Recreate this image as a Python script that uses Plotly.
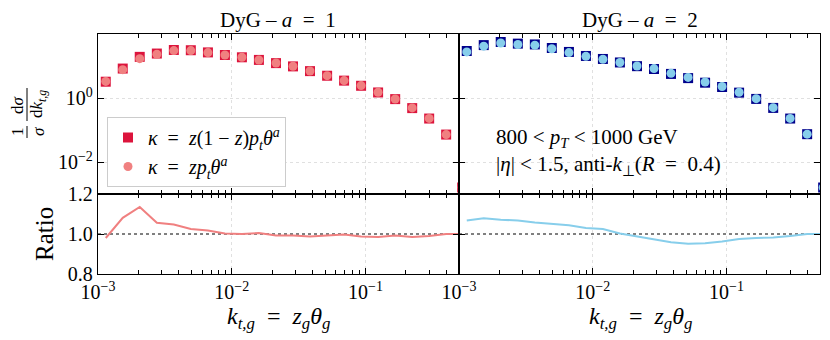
import plotly.graph_objects as go

# k_t,g bin centres (the last one sits just past the axis edge and is clipped)
kt = [0.001143, 0.001531, 0.002051, 0.002754, 0.00369, 0.004943, 0.006637,
      0.00889, 0.01191, 0.01596, 0.02143, 0.02871, 0.03846, 0.05164, 0.06918,
      0.09268, 0.1242, 0.1667, 0.2234, 0.2992, 0.4009, 0.528]

# DyG a = 1
a1_square = [3.23, 8.32, 19.3, 24.5, 31.7, 31.1, 26.6, 22.1, 18.7, 15.5, 12.3,
             9.72, 6.92, 4.96, 3.49, 2.41, 1.49, 0.923, 0.483, 0.228, 0.072, 0.0016]
a1_circle = [3.3, 7.7, 17.0, 23.2, 30.3, 30.3, 26.2, 22.0, 18.7, 15.4, 12.4,
             9.8, 7.0, 5.0, 3.5, 2.44, 1.51, 0.93, 0.49, 0.23, 0.072, 0.0016]
a1_ratio = [0.98, 1.081, 1.135, 1.056, 1.047, 1.025, 1.017, 1.003, 1.0, 1.005, 0.992,
            0.992, 0.988, 0.992, 0.998, 0.988, 0.985, 0.992, 0.985, 0.99, 1.0, 1.0]

# DyG a = 2
a2_square = [29.4, 45.0, 56.2, 50.0, 47.2, 36.5, 27.5, 20.6, 16.6, 12.9, 9.88,
             8.06, 5.66, 4.18, 3.01, 2.21, 1.47, 0.936, 0.49, 0.228, 0.074, 0.0016]
a2_circle = [27.5, 41.7, 52.5, 46.8, 44.7, 34.7, 26.3, 20.0, 16.2, 12.9, 10.0,
             8.3, 5.9, 4.4, 3.16, 2.29, 1.51, 0.955, 0.50, 0.23, 0.074, 0.0016]
a2_ratio = [1.068, 1.079, 1.071, 1.068, 1.057, 1.052, 1.044, 1.030, 1.025, 1.003, 0.988,
            0.971, 0.959, 0.951, 0.954, 0.963, 0.975, 0.98, 0.983, 0.99, 1.0, 1.0]

x_tickvals = [1e-3, 1e-2, 1e-1]
x_ticktext = ["10<sup>−3</sup>", "10<sup>−2</sup>", "10<sup>−1</sup>"]
x_minor = [k * 10.0 ** e for e in (-3, -2, -1) for k in range(2, 10) if k * 10.0 ** e < 0.5]
y_tickvals = [1e-2, 1e0]
y_ticktext = ["10<sup>−2</sup>", "10<sup>0</sup>"]
r_tickvals = [0.8, 1.0, 1.2]
r_ticktext = ["0.8", "1.0", "1.2"]

W, H = 830, 340
OFF = 8  # la página deja 8 px de margen en el body
FONT = "Liberation Serif"
SP = "\u2002"  # espacio ancho alrededor de "="


def px_x(p):
    return (p - OFF) / W


def px_y(p):
    return 1 - (p - OFF) / H


fig = go.Figure()

paneles = [
    ("x", "y", "x3", "y3", a1_square, a1_circle, a1_ratio, "#DC143C", "#F08080", True),
    ("x2", "y2", "x4", "y4", a2_square, a2_circle, a2_ratio, "#00008B", "#87CEEB", False),
]
for xt, yt, xb, yb, sq, ci, ra, c_sq, c_ci, leg in paneles:
    fig.add_trace(go.Scatter(x=kt, y=sq, mode="markers", xaxis=xt, yaxis=yt,
                             marker=dict(symbol="square", size=10, color=c_sq),
                             name=f"<i>κ</i>{SP}={SP}<i>z</i>(1 − <i>z</i>)<i>p<sub>t</sub>θ<sup>a</sup></i>",
                             legendgroup="sq", showlegend=leg))
    fig.add_trace(go.Scatter(x=kt, y=ci, mode="markers", xaxis=xt, yaxis=yt,
                             marker=dict(symbol="circle", size=9, color=c_ci),
                             name=f"<i>κ</i>{SP}={SP}<i>zp<sub>t</sub>θ<sup>a</sup></i>",
                             legendgroup="ci", showlegend=leg))
    fig.add_trace(go.Scatter(x=kt, y=ra, mode="lines", xaxis=xb, yaxis=yb,
                             line=dict(color=c_ci, width=2), showlegend=False))
    fig.add_shape(type="line", xref=xb + " domain", yref=yb, x0=0, x1=1, y0=1, y1=1,
                  line=dict(color="black", width=1, dash="dot"), layer="below")

xl = [px_x(98), px_x(459)]
xr = [px_x(459), px_x(820)]
ytop = [px_y(194), px_y(34)]
ybot = [px_y(274), px_y(194)]

ax_common = dict(showline=True, linecolor="black", linewidth=1.3, mirror="ticks",
                 ticks="inside", ticklen=6, tickwidth=1.2, tickcolor="black",
                 tickfont=dict(family=FONT, size=20, color="black"), automargin=False,
                 gridcolor="#e0e0e0", griddash="dot", gridwidth=1, zeroline=False)
xr_range = [-3, -0.301]
xaxis_common = dict(ax_common, type="log", range=xr_range, tickmode="array",
                    tickvals=x_tickvals, ticktext=x_ticktext, showgrid=True,
                    minor=dict(ticks="inside", ticklen=3.5, tickwidth=1, tickcolor="black",
                               tickmode="array", tickvals=x_minor, showgrid=False))

fig.update_layout(
    width=W, height=H, margin=dict(l=0, r=0, t=0, b=0),
    paper_bgcolor="white", plot_bgcolor="white",
    font=dict(family=FONT, color="black"),
    xaxis=dict(xaxis_common, domain=xl, anchor="y", showticklabels=False),
    xaxis2=dict(xaxis_common, domain=xr, anchor="y2", showticklabels=False),
    xaxis3=dict(xaxis_common, domain=xl, anchor="y3"),
    xaxis4=dict(xaxis_common, domain=xr, anchor="y4"),
    yaxis=dict(ax_common, type="log", range=[-3, 2], domain=ytop, anchor="x",
               tickmode="array", tickvals=y_tickvals, ticktext=y_ticktext, showgrid=True),
    yaxis2=dict(ax_common, type="log", range=[-3, 2], domain=ytop, anchor="x2",
                tickmode="array", tickvals=y_tickvals, showticklabels=False, showgrid=True),
    yaxis3=dict(ax_common, range=[0.8, 1.2], domain=ybot, anchor="x3",
                tickmode="array", tickvals=r_tickvals, ticktext=r_ticktext, showgrid=False),
    yaxis4=dict(ax_common, range=[0.8, 1.2], domain=ybot, anchor="x4",
                tickmode="array", tickvals=r_tickvals, showticklabels=False, showgrid=False),
    legend=dict(x=px_x(107), y=px_y(117), xanchor="left", yanchor="top",
                bgcolor="white", bordercolor="#cccccc", borderwidth=1, tracegroupgap=0,
                font=dict(family=FONT, size=20, color="black")),
)


def texto(t, xp, yp, size, angle=0, xanchor="center", yanchor="middle", align="center"):
    fig.add_annotation(text=t, x=px_x(xp), y=px_y(yp), xref="paper", yref="paper",
                       xanchor=xanchor, yanchor=yanchor, align=align, textangle=angle,
                       showarrow=False, font=dict(family=FONT, size=size, color="black"))


texto(f"DyG – <i>a</i>{SP}={SP}1", 278, 20, 21)
texto(f"DyG – <i>a</i>{SP}={SP}2", 640, 20, 21)
texto(f"<i>k<sub>t,g</sub></i>{SP}={SP}<i>z<sub>g</sub>θ<sub>g</sub></i>", 278, 318, 24)
texto(f"<i>k<sub>t,g</sub></i>{SP}={SP}<i>z<sub>g</sub>θ<sub>g</sub></i>", 640, 318, 24)
texto("Ratio", 44, 234, 25, angle=-90)
texto("800 &lt; <i>p<sub>T</sub></i> &lt; 1000 GeV<br>"
      f"|<i>η</i>| &lt; 1.5, anti-<i>k</i><sub>⊥</sub>(<i>R</i>{SP}={SP}0.4)",
      494, 152, 21, xanchor="left", align="left")

# y label as a rotated product of two fractions: (1/σ)(dσ/dk_t,g)
texto("1", 17, 132, 17, angle=-90)
texto("<i>σ</i>", 38, 132, 17, angle=-90)
texto("d<i>σ</i>", 17, 105, 17, angle=-90)
texto("d<i>k<sub>t,g</sub></i>", 38, 104, 17, angle=-90)
for y0, y1 in [(126, 138), (88, 121)]:
    fig.add_shape(type="line", xref="paper", yref="paper", x0=px_x(27), x1=px_x(27),
                  y0=px_y(y0), y1=px_y(y1), line=dict(color="black", width=1))

fig.write_html("out.html")
